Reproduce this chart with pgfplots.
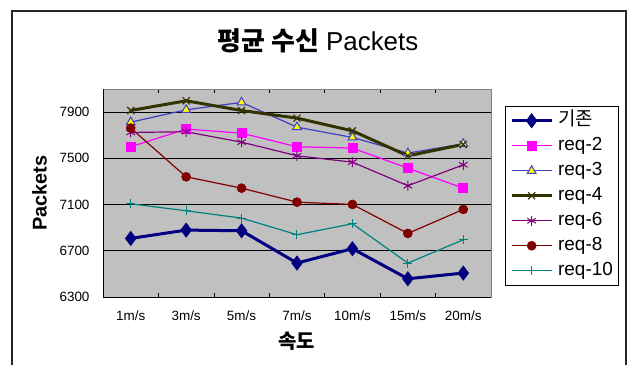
\documentclass[border=0pt]{standalone}
\usepackage{pgfplots}
\pgfplotsset{compat=1.18}
\usepackage{fontspec}
\setmainfont{Liberation Sans}
\newfontfamily\kr{Noto Sans CJK KR}
\definecolor{plotgray}{RGB}{192,192,192}
\definecolor{borderg}{RGB}{128,128,128}
\definecolor{cNavy}{RGB}{0,0,128}
\definecolor{cMag}{RGB}{255,0,255}
\definecolor{cBlue}{RGB}{64,64,192}
\definecolor{cYel}{RGB}{255,255,0}
\definecolor{cOlive}{RGB}{51,51,0}
\definecolor{cPurp}{RGB}{128,0,128}
\definecolor{cDRed}{RGB}{128,0,0}
\definecolor{cTeal}{RGB}{0,128,128}
\begin{document}
\begin{tikzpicture}
\path[use as bounding box] (0,0) rectangle (631bp,-365bp);
\draw[line width=1.5bp, black!85] (12bp,-11bp) rectangle (626bp,-400bp);
\node[font=\fontsize{26}{29}\selectfont, inner sep=0pt] at (318bp,-41bp) {{\kr\bfseries 평균 수신} Packets};
\begin{axis}[
  scale only axis, width=388bp, height=208bp,
  at={(103bp,-297bp)}, anchor=south west,
  xmin=-0.5, xmax=6.5, ymin=6300, ymax=8100,
  xtick={0,...,6},
  xticklabels={1m/s,3m/s,5m/s,7m/s,10m/s,15m/s,20m/s},
  minor xtick={-0.5,0.5,1.5,2.5,3.5,4.5,5.5,6.5},
  ytick={6300,6700,7100,7500,7900},
  ymajorgrids, major grid style={black, line width=0.7bp},
  major tick length=0pt, minor tick length=4bp, tick align=inside,
  tick style={black, line width=0.7bp},
  axis background/.style={fill=plotgray},
  axis line style={draw=borderg, line width=0.8bp},
  tick label style={font=\fontsize{13.5}{16}\selectfont},
  /pgf/number format/assume math mode=true,
  /pgf/number format/1000 sep={},
  scaled y ticks=false,
  yticklabel style={xshift=-10bp},
  xticklabel style={yshift=-10bp},
  ylabel={Packets},
  ylabel style={font=\bfseries\fontsize{20}{22}\selectfont, at={(axis description cs:-0.144,0.5)}, anchor=south, inner sep=0pt},
  xlabel={{\kr\bfseries 속도}},
  xlabel style={font=\fontsize{20}{22}\selectfont, at={(rel axis cs:0.5,0)}, anchor=center, inner sep=0pt, yshift=-44bp},
  legend style={at={(1.036,0.918)}, anchor=north west, draw=black, fill=white,
    font=\fontsize{19}{21}\selectfont, inner xsep=5bp, inner ysep=6bp, row sep=8bp,
    nodes={inner sep=0pt, text height=13bp, text depth=4bp},
    /tikz/every odd column/.append style={column sep=5bp}},
  legend cell align=left,
  legend image code/.code={\draw[mark repeat=2,mark phase=2,#1] plot coordinates {(0bp,0bp) (20bp,0bp) (40bp,0bp)};},
]
\addplot[color=cNavy, line width=3bp, mark=diamond*, mark size=7bp, mark options={solid, fill=cNavy, line width=0.8bp}]
  coordinates {(0,6807) (1,6879) (2,6873) (3,6594) (4,6718) (5,6458) (6,6507)};
\addlegendentry{{\kr 기존}}
\addplot[color=cMag, line width=1.2bp, mark=square*, mark size=4.5bp, mark options={solid, fill=cMag, line width=0.6bp}]
  coordinates {(0,7600) (1,7753) (2,7718) (3,7600) (4,7589) (5,7415) (6,7242)};
\addlegendentry{req-2}
\addplot[color=cBlue, line width=1.2bp, mark=triangle*, mark size=5bp, mark options={solid, fill=cYel, draw=cBlue, line width=1bp}]
  coordinates {(0,7813) (1,7920) (2,7984) (3,7770) (4,7681) (5,7545) (6,7626)};
\addlegendentry{req-3}
\addplot[color=cOlive, line width=3bp, mark=x, mark size=5bp, mark options={solid, line width=1.2bp}]
  coordinates {(0,7914) (1,7998) (2,7914) (3,7848) (4,7738) (5,7522) (6,7620)};
\addlegendentry{req-4}
\addplot[color=cPurp, line width=1.2bp, mark=asterisk, mark size=5bp, mark options={solid, line width=1bp}]
  coordinates {(0,7724) (1,7730) (2,7640) (3,7522) (4,7467) (5,7263) (6,7444)};
\addlegendentry{req-6}
\addplot[color=cDRed, line width=1.2bp, mark=*, mark size=4.5bp, mark options={solid, fill=cDRed, line width=0.6bp}]
  coordinates {(0,7762) (1,7340) (2,7242) (3,7121) (4,7101) (5,6850) (6,7058)};
\addlegendentry{req-8}
\addplot[color=cTeal, line width=1.2bp, mark=+, mark size=4.5bp, mark options={solid, line width=1bp}]
  coordinates {(0,7107) (1,7046) (2,6983) (3,6839) (4,6934) (5,6594) (6,6795)};
\addlegendentry{req-10}
\draw[black, line width=1bp] (rel axis cs:0,1) -- (rel axis cs:0,0) -- (rel axis cs:1,0);
\end{axis}
\end{tikzpicture}
\end{document}
